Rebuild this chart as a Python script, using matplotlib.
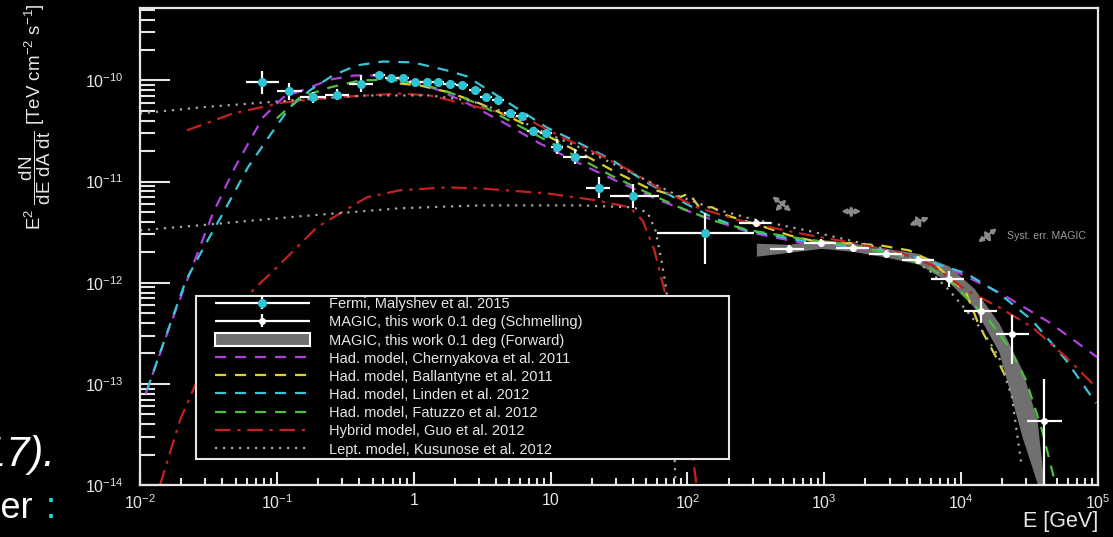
import numpy as np
import matplotlib.pyplot as plt
from matplotlib.patches import Rectangle, Patch
from matplotlib.lines import Line2D
from matplotlib.container import ErrorbarContainer
from matplotlib.legend_handler import HandlerErrorbar
from matplotlib.ticker import NullFormatter, LogLocator

plt.rcParams['font.family'] = ['Liberation Sans', 'DejaVu Sans']
plt.rcParams['mathtext.fontset'] = 'custom'
plt.rcParams['mathtext.rm'] = 'Liberation Sans'
plt.rcParams['mathtext.it'] = 'Liberation Sans:italic'
plt.rcParams['mathtext.bf'] = 'Liberation Sans:bold'

# Fermi, Malyshev et al. 2015  (E in GeV, E^2 dN/dE in TeV cm-2 s-1)
fermi_e = [0.0777, 0.122, 0.183, 0.274, 0.410, 0.556, 0.679, 0.832, 1.02, 1.24, 1.50, 1.83, 2.24,
           2.79, 3.36, 4.10, 5.02, 6.14, 7.39, 9.20, 11.2, 15.2, 22.4, 40.3, 135]
fermi_e_lo = [0.0594, 0.100, 0.147, 0.224, 0.336, 0.503, 0.614, 0.752, 0.922, 1.12, 1.36, 1.65, 2.03,
              2.52, 3.04, 3.71, 4.54, 5.55, 6.68, 8.32, 10.1, 12.4, 18.3, 27.4, 60.4]
fermi_e_hi = [0.1035, 0.152, 0.228, 0.336, 0.502, 0.615, 0.751, 0.920, 1.128, 1.37, 1.66, 2.02, 2.48,
              3.09, 3.72, 4.53, 5.55, 6.79, 8.17, 10.2, 12.4, 18.6, 27.4, 62.5, 308]
fermi_f = [9.55e-11, 7.78e-11, 6.79e-11, 7.26e-11, 9.33e-11, 1.12e-10, 1.05e-10, 1.05e-10, 9.55e-11,
           9.55e-11, 9.55e-11, 9.33e-11, 8.92e-11, 7.96e-11, 6.79e-11, 6.34e-11, 4.82e-11, 4.50e-11,
           3.13e-11, 2.99e-11, 2.22e-11, 1.77e-11, 8.73e-12, 7.26e-12, 3.13e-12]
fermi_f_lo = [7.41e-11, 6.40e-11, 6.05e-11, 6.47e-11, 7.76e-11, 1.033e-10, 9.69e-11, 9.69e-11, 8.81e-11,
              8.81e-11, 8.81e-11, 8.61e-11, 8.23e-11, 7.34e-11, 6.26e-11, 5.85e-11, 4.45e-11, 4.15e-11,
              2.89e-11, 2.76e-11, 1.89e-11, 1.51e-11, 6.93e-12, 5.51e-12, 1.53e-12]
fermi_f_hi = [1.23e-10, 9.46e-11, 7.62e-11, 8.15e-11, 1.12e-10, 1.214e-10, 1.138e-10, 1.138e-10, 1.035e-10,
              1.035e-10, 1.035e-10, 1.011e-10, 9.67e-11, 8.63e-11, 7.36e-11, 6.87e-11, 5.22e-11, 4.88e-11,
              3.39e-11, 3.24e-11, 2.61e-11, 2.08e-11, 1.10e-11, 9.57e-12, 4.85e-12]

# MAGIC, Schmelling unfolding
magic_e = [319, 556, 951, 1629, 2837, 4856, 8170, 14000, 23550, 40360]
magic_e_lo = [240, 403, 714, 1224, 2130, 3710, 6040, 10500, 18100, 30300]
magic_e_hi = [410, 714, 1224, 2130, 3710, 6350, 10500, 18300, 31400, 54600]
magic_f = [3.93e-12, 2.17e-12, 2.49e-12, 2.22e-12, 1.94e-12, 1.69e-12, 1.10e-12, 5.29e-13, 3.13e-13, 4.31e-14]
magic_f_lo = [3.59e-12, 1.98e-12, 2.27e-12, 2.03e-12, 1.77e-12, 1.54e-12, 9.15e-13, 3.97e-13, 1.57e-13, 1e-15]
magic_f_hi = [4.31e-12, 2.38e-12, 2.73e-12, 2.43e-12, 2.13e-12, 1.85e-12, 1.32e-12, 7.06e-13, 4.85e-13, 1.11e-13]

# MAGIC, forward folding band
band_e = [319, 556, 951, 1629, 2837, 4856, 8170, 12400, 18900, 27900, 35900, 40400]
band_hi = [2.46e-12, 2.40e-12, 2.69e-12, 2.46e-12, 2.19e-12, 1.95e-12, 1.46e-12, 8.83e-13, 3.98e-13,
           1.37e-13, 4.38e-14, 1.0e-14]
band_lo = [1.83e-12, 2.00e-12, 2.19e-12, 2.04e-12, 1.79e-12, 1.53e-12, 1.01e-12, 5.73e-13, 2.06e-13,
           2.98e-14, 1.05e-14, 7.1e-15]

# models
cher_e = [0.0110, 0.0166, 0.0240, 0.0341, 0.0493, 0.0635, 0.0791, 0.111, 0.174, 0.244, 0.371, 0.565, 0.935,
          1.55, 2.56, 4.25, 8.32, 16.3, 31.9, 62.5, 122, 284, 658, 1520, 3520, 8170, 18900, 43900, 98400]
cher_f = [8.0e-14, 3.80e-13, 1.42e-12, 4.86e-12, 1.38e-11, 2.55e-11, 4.31e-11, 6.79e-11, 8.53e-11, 1.02e-10,
          1.12e-10, 1.12e-10, 1.0e-10, 7.97e-11, 5.79e-11, 4.03e-11, 2.39e-11, 1.51e-11, 9.84e-12, 6.53e-12,
          4.64e-12, 3.15e-12, 2.51e-12, 2.24e-12, 1.95e-12, 1.39e-12, 8.05e-13, 4.07e-13, 1.84e-13]

ball_e = [0.791, 1.11, 1.83, 3.03, 5.28, 9.35, 16.3, 28.4, 50.2, 87.4, 103, 122, 152, 193, 336, 556, 920,
          1520, 2520, 4170, 6350, 10900, 13500, 18000, 21700]
ball_f = [9.34e-11, 8.93e-11, 7.61e-11, 5.93e-11, 4.22e-11, 2.86e-11, 1.94e-11, 1.29e-11, 8.77e-12, 6.99e-12,
          7.66e-12, 5.57e-12, 5.57e-12, 4.64e-12, 3.70e-12, 2.94e-12, 2.51e-12, 2.46e-12, 2.35e-12, 2.09e-12,
          1.56e-12, 7.87e-13, 3.80e-13, 1.84e-13, 1.09e-13]

linden_e = [0.01125, 0.0160, 0.0217, 0.0298, 0.0404, 0.0614, 0.0889, 0.124, 0.174, 0.256, 0.384, 0.594,
            0.984, 1.74, 2.44, 3.03, 5.28, 9.35, 16.3, 28.4, 50.2, 87.4, 152, 270, 658, 1520, 3520, 10900,
            18900, 33000, 58400, 96700]
linden_f = [8.67e-14, 3.40e-13, 1.06e-12, 2.35e-12, 4.86e-12, 1.38e-11, 2.86e-11, 5.41e-11, 7.97e-11,
            1.12e-10, 1.41e-10, 1.54e-10, 1.51e-10, 1.26e-10, 1.10e-10, 9.13e-11, 5.66e-11, 3.44e-11,
            2.39e-11, 1.62e-11, 9.84e-12, 6.53e-12, 4.43e-12, 3.30e-12, 2.63e-12, 2.29e-12, 2.00e-12,
            1.24e-12, 7.87e-13, 4.26e-13, 1.72e-13, 6.45e-14]

fat_e = [0.100, 0.147, 0.244, 0.404, 0.668, 1.11, 1.83, 3.03, 5.28, 9.35, 16.3, 28.4, 50.2, 87.4, 152, 284,
         658, 1520, 3520, 5830, 8170, 10900, 16000, 22400, 29800, 39000, 46100, 50200]
fat_f = [4.22e-11, 6.79e-11, 8.53e-11, 1.0e-10, 1.02e-10, 9.34e-11, 7.61e-11, 5.79e-11, 3.85e-11, 2.55e-11,
         1.70e-11, 1.13e-11, 7.83e-12, 5.57e-12, 4.14e-12, 3.30e-12, 2.75e-12, 2.35e-12, 1.87e-12, 1.42e-12,
         1.06e-12, 7.19e-13, 4.26e-13, 2.31e-13, 1.09e-13, 3.49e-14, 1.41e-14, 8.9e-15]

guo_e = [0.0220, 0.0478, 0.111, 0.256, 0.791, 1.31, 2.28, 4.25, 7.03, 12.2, 21.7, 37.8, 65.8, 122, 270, 658,
         1520, 3520, 6140, 10900, 18900, 33000, 58400, 96700]
guo_f = [3.21e-11, 4.72e-11, 6.06e-11, 6.79e-11, 7.44e-11, 7.11e-11, 5.93e-11, 4.83e-11, 4.03e-11, 2.74e-11,
         1.90e-11, 1.29e-11, 8.20e-12, 5.45e-12, 3.96e-12, 3.08e-12, 2.51e-12, 2.00e-12, 1.49e-12, 8.43e-13,
         5.73e-13, 3.64e-13, 1.84e-13, 9.29e-14]
guo2_e = [0.0140, 0.0196, 0.0244, 0.0324, 0.0478, 0.0668, 0.100, 0.196, 0.454, 0.791, 1.74, 3.03, 9.35, 21.7,
          37.8, 47.0, 57.4, 67.9, 80.4, 95.1, 109, 118]
guo2_f = [1.0e-14, 4.38e-14, 8.67e-14, 2.15e-13, 4.77e-13, 8.43e-13, 1.42e-12, 3.53e-12, 6.99e-12, 8.20e-12,
          8.77e-12, 8.57e-12, 7.66e-12, 6.53e-12, 5.57e-12, 4.14e-12, 2.09e-12, 8.43e-13, 2.70e-13, 6.91e-14,
          1.98e-14, 8.9e-15]

kus_e = [0.0100, 0.0274, 0.124, 0.454, 1.31, 2.56, 4.25, 8.32, 16.3, 28.4, 50.2, 87.4, 152, 284, 417, 739,
         1520, 2520, 4170, 5830, 8170, 10900, 14200, 18900, 23500, 27400]
kus_f = [4.72e-11, 5.41e-11, 6.34e-11, 7.11e-11, 7.11e-11, 6.34e-11, 5.06e-11, 3.21e-11, 2.18e-11, 1.51e-11,
         1.03e-11, 7.15e-12, 5.45e-12, 4.34e-12, 3.87e-12, 3.30e-12, 2.63e-12, 2.24e-12, 1.75e-12, 1.33e-12,
         8.43e-13, 5.35e-13, 3.40e-13, 1.84e-13, 7.40e-14, 1.69e-14]
kus2_e = [0.0100, 0.0274, 0.147, 0.791, 3.03, 16.3, 39.7, 51.1, 58.4, 64.6, 70.3, 74.0, 77.8, 81.7]
kus2_f = [3.30e-12, 3.70e-12, 4.54e-12, 5.45e-12, 5.82e-12, 5.82e-12, 5.57e-12, 4.97e-12, 3.30e-12, 1.67e-12,
          8.43e-13, 2.70e-13, 6.91e-14, 1.12e-14]

# systematic error crosses (start / end of each double arrow)
syst_e0 = [417, 439, 1331, 1574, 4170, 4613, 13300, 14700]
syst_f0 = [7.15e-12, 5.08e-12, 5.08e-12, 5.82e-12, 3.70e-12, 4.64e-12, 2.51e-12, 3.30e-12]
syst_e1 = [574, 528, 1862, 1574, 5830, 5105, 18300, 16550]
syst_f1 = [5.08e-12, 6.68e-12, 5.08e-12, 4.34e-12, 4.43e-12, 3.45e-12, 3.45e-12, 2.51e-12]

xtick_vals = [1e-2, 1e-1, 1, 10, 1e2, 1e3, 1e4, 1e5]
xtick_labels = ['$10^{-2}$', '$10^{-1}$', '1', '10', '$10^{2}$', '$10^{3}$', '$10^{4}$', '$10^{5}$']
ytick_vals = [1e-14, 1e-13, 1e-12, 1e-11, 1e-10]
ytick_labels = ['$10^{-14}$', '$10^{-13}$', '$10^{-12}$', '$10^{-11}$', '$10^{-10}$']

labels = ['Fermi, Malyshev et al. 2015',
          'MAGIC, this work 0.1 deg (Schmelling)',
          'MAGIC, this work 0.1 deg (Forward)',
          'Had. model, Chernyakova et al. 2011',
          'Had. model, Ballantyne et al. 2011',
          'Had. model, Linden et al. 2012',
          'Had. model, Fatuzzo et al. 2012',
          'Hybrid model, Guo et al. 2012',
          'Lept. model, Kusunose et al. 2012']

fg = '#e6e6e6'
c_cyan = '#2ec4d4'
c_purple = '#b040e0'
c_yellow = '#dcd22a'
c_lcyan = '#38c6d6'
c_green = '#4cc23c'
c_red = '#c42222'
c_dot = '#a8a8a8'
c_band = '#707070'

fig = plt.figure(figsize=(11.13, 5.37), dpi=100, facecolor='black')
ax = fig.add_axes([0.1258, 0.0968, 0.8607, 0.8882])
ax.set_facecolor('black')
ax.set_xscale('log')
ax.set_yscale('log')
ax.set_xlim(1e-2, 1e5)
ax.set_ylim(1e-14, 5.2e-10)

ax.fill_between(band_e, band_lo, band_hi, color=c_band, lw=0, zorder=1)

dash = (5, 4)
dashdot = (7, 3, 1.5, 3)
dots = (1, 2.6)
lw = 1.6
ax.plot(cher_e, cher_f, color=c_purple, lw=lw, dashes=dash, zorder=2)
ax.plot(ball_e, ball_f, color=c_yellow, lw=lw, dashes=dash, zorder=2)
ax.plot(linden_e, linden_f, color=c_lcyan, lw=lw, dashes=dash, zorder=2)
ax.plot(fat_e, fat_f, color=c_green, lw=lw, dashes=dash, zorder=2)
ax.plot(guo_e, guo_f, color=c_red, lw=lw, dashes=dashdot, zorder=2)
ax.plot(guo2_e, guo2_f, color=c_red, lw=lw, dashes=dashdot, zorder=2)
ax.plot(kus_e, kus_f, color=c_dot, lw=lw, dashes=dots, zorder=2)
ax.plot(kus2_e, kus2_f, color=c_dot, lw=lw, dashes=dots, zorder=2)

fe = np.array(fermi_e)
ff = np.array(fermi_f)
h_fermi = ax.errorbar(fe, ff, xerr=[fe - np.array(fermi_e_lo), np.array(fermi_e_hi) - fe],
                      yerr=[ff - np.array(fermi_f_lo), np.array(fermi_f_hi) - ff],
                      fmt='o', ms=5.5, mfc=c_cyan, mec=c_cyan, ecolor='white', elinewidth=1.6,
                      capsize=0, zorder=3)
me = np.array(magic_e)
mf = np.array(magic_f)
h_magic = ax.errorbar(me, mf, xerr=[me - np.array(magic_e_lo), np.array(magic_e_hi) - me],
                      yerr=[mf - np.array(magic_f_lo), np.array(magic_f_hi) - mf],
                      fmt='o', ms=4, mfc='white', mec='white', ecolor='white', elinewidth=1.6,
                      capsize=0, zorder=3)

for e0, f0, e1, f1 in zip(syst_e0, syst_f0, syst_e1, syst_f1):
    ax.annotate('', xy=(e1, f1), xytext=(e0, f0),
                arrowprops=dict(arrowstyle='<|-|>', color='#8a8a8a', lw=1.7,
                                mutation_scale=6.5, shrinkA=0, shrinkB=0), zorder=3)
ax.text(21700, 2.92e-12, 'Syst. err. MAGIC', color='#9a9a9a', fontsize=7.6, va='center', ha='left')

# axes style
for s in ax.spines.values():
    s.set_color(fg)
    s.set_linewidth(1.6)
ax.set_xticks(xtick_vals, xtick_labels)
ax.set_yticks(ytick_vals, ytick_labels)
ax.xaxis.set_minor_locator(LogLocator(base=10, subs=np.arange(2, 10), numticks=20))
ax.yaxis.set_minor_locator(LogLocator(base=10, subs=np.arange(2, 10), numticks=20))
ax.xaxis.set_minor_formatter(NullFormatter())
ax.yaxis.set_minor_formatter(NullFormatter())
ax.set_ylim(1e-14, 5.2e-10)
ax.tick_params(axis='both', which='both', direction='in', colors=fg, labelcolor=fg, width=1.5,
               labelsize=11.5, top=False, right=False)
ax.tick_params(axis='y', which='major', length=21.6, pad=12)
ax.tick_params(axis='y', which='minor', length=10.8)
ax.tick_params(axis='x', which='major', length=9.4, pad=6)
ax.tick_params(axis='x', which='minor', length=5)

# legend
ax.add_patch(Rectangle((0.0585, 0.0545), 0.556, 0.342, transform=ax.transAxes, facecolor='black',
                       edgecolor=fg, lw=1.5, zorder=5))
handles = [h_fermi, h_magic,
           Patch(facecolor=c_band, edgecolor='white', lw=1.5),
           Line2D([], [], color=c_purple, lw=lw, dashes=dash),
           Line2D([], [], color=c_yellow, lw=lw, dashes=dash),
           Line2D([], [], color=c_lcyan, lw=lw, dashes=dash),
           Line2D([], [], color=c_green, lw=lw, dashes=dash),
           Line2D([], [], color=c_red, lw=lw, dashes=dashdot),
           Line2D([], [], color=c_dot, lw=lw, dashes=dots)]
leg = ax.legend(handles, labels, loc='upper left', bbox_to_anchor=(0.0783, 0.394), frameon=False,
                fontsize=10.5, handlelength=6.5, handletextpad=1.3, handleheight=0.9,
                labelspacing=0.28, borderpad=0, borderaxespad=0,
                handler_map={ErrorbarContainer: HandlerErrorbar(xerr_size=3.25, yerr_size=0.45, numpoints=1)})
leg.set_zorder(6)
for t in leg.get_texts():
    t.set_color(fg)

# axis titles
fig.text(35 / 1113, 1 - 117 / 537,
         r'$\mathregular{E^{2}\ \dfrac{dN}{dE\ dA\ dt}\ [TeV\ cm^{-2}\ s^{-1}]}$',
         rotation=90, color=fg, fontsize=13.5, ha='center', va='center')
fig.text(1098 / 1113, 1 - 522 / 537, 'E [GeV]', color=fg, fontsize=15.5, ha='right', va='center')

# slide text cut at the left border
fig.text(55 / 1113, 1 - 466 / 537, '(2017).', color='white', fontsize=30, style='italic',
         ha='right', va='baseline')
fig.text(33 / 1113, 1 - 518 / 537, 'Further', color='white', fontsize=26, ha='right', va='baseline')
fig.text(46 / 1113, 1 - 518 / 537, ':', color='#18d8f0', fontsize=26, ha='left', va='baseline')

fig.savefig('out.png', dpi=100, facecolor='black')
